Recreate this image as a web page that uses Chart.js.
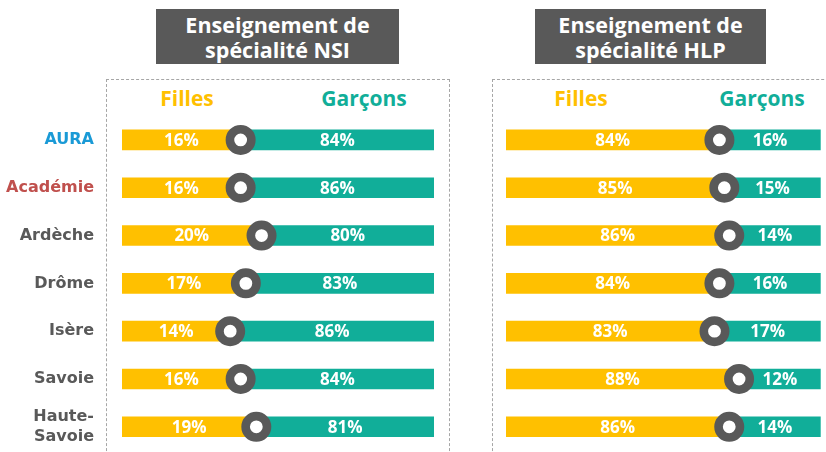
<!DOCTYPE html>
<html lang="fr">
<head>
<meta charset="utf-8">
<script src="https://cdn.jsdelivr.net/npm/chart.js@4.4.1/dist/chart.umd.min.js"></script>
<style>
  html { margin: 0; padding: 0; overflow: hidden; background: #fff; }
  body { margin: 0; padding: 0; width: 840px; height: 470px; position: relative; font-family: "Open Sans", sans-serif; }
  .title {
    position: absolute; top: 9px; height: 55px; background: #595959; color: #fff;
    font-weight: 700; font-size: 21.5px; line-height: 25px; text-align: center;
    display: flex; align-items: center; justify-content: center;
  }
  .box { position: absolute; top: 79px; height: 400px; border: 1px dashed #a6a6a6; }
  .head { position: absolute; top: 84px; font-weight: 700; font-size: 21px; transform: translateX(-50%); }
  .filles { color: #ffc000; }
  .garcons { color: #11ae99; }
  .wrap { position: absolute; top: 0; height: 470px; }
</style>
</head>
<body>
<div class="title" style="left:156px;width:243px">Enseignement de<br>spécialité NSI</div>
<div class="title" style="left:535px;width:231px">Enseignement de<br>spécialité HLP</div>
<div class="box" style="left:106px;width:342px"></div>
<div class="box" style="left:492px;width:400px"></div>
<div class="head filles" style="left:187px">Filles</div>
<div class="head garcons" style="left:364px">Garçons</div>
<div class="head filles" style="left:581px">Filles</div>
<div class="head garcons" style="left:762px">Garçons</div>
<div class="wrap" style="left:0px;width:460px"><canvas id="nsi"></canvas></div>
<div class="wrap" style="left:460px;width:380px"><canvas id="hlp"></canvas></div>
<script>
// data
const territoires = ["AURA", "Académie", "Ardèche", "Drôme", "Isère", "Savoie", ["Haute-", "Savoie"]];
const labelColors = ["#1a9ad6", "#c0504d", "#595959", "#595959", "#595959", "#595959", "#595959"];

const fillesNSI = [16, 16, 20, 17, 14, 16, 19];
const fillesNSILabels = ["16%", "16%", "20%", "17%", "14%", "16%", "19%"];
const garconsNSILabels = ["84%", "86%", "80%", "83%", "86%", "84%", "81%"];

const fillesHLP = [84, 85, 86, 84, 83, 88, 86];
const fillesHLPLabels = ["84%", "85%", "86%", "84%", "83%", "88%", "86%"];
const garconsHLPLabels = ["16%", "15%", "14%", "16%", "17%", "12%", "14%"];

// the original is not drawn to scale: these ranges put the circles where they are
const rangeNSI = [-6.7, 53];
const rangeHLP = [40.6, 104.6];

const YELLOW = "#ffc000",
  TEAL = "#11ae99",
  DARK = "#595959";

const valueLabels = {
  id: "valueLabels",
  afterDatasetsDraw(chart, args, opts) {
    const ctx = chart.ctx;
    ctx.save();
    ctx.font = "bold 17px 'Open Sans', sans-serif";
    ctx.fillStyle = "#fff";
    ctx.textAlign = "center";
    ctx.textBaseline = "middle";
    [1, 2].forEach((di, k) => {
      const texts = opts.texts[k];
      chart.getDatasetMeta(di).data.forEach((bar, i) => {
        ctx.fillText(texts[i], (bar.x + bar.base) / 2, bar.y + 1);
      });
    });
    ctx.restore();
  },
};

const makeChart = (id, width, filles, range, texts, axisWidth, padding) => {
  const canvas = document.getElementById(id);
  canvas.width = width;
  canvas.height = 470;
  canvas.style.width = width + "px";
  canvas.style.height = "470px";
  return new Chart(canvas, {
    type: "bar",
    data: {
      labels: territoires,
      datasets: [
        {
          type: "line",
          indexAxis: "y",
          data: filles,
          showLine: false,
          pointRadius: 10.7,
          pointBorderWidth: 8.6,
          pointBorderColor: DARK,
          pointBackgroundColor: "#fff",
          order: 0,
          clip: false,
        },
        {
          data: filles.map((f) => [range[0], f]),
          backgroundColor: YELLOW,
          barThickness: 20,
          grouped: false,
          order: 1,
        },
        {
          data: filles.map((f) => [f, range[1]]),
          backgroundColor: TEAL,
          barThickness: 20,
          grouped: false,
          order: 1,
        },
      ],
    },
    options: {
      indexAxis: "y",
      responsive: false,
      animation: false,
      layout: { padding: padding },
      plugins: {
        legend: { display: false },
        tooltip: { enabled: false },
        valueLabels: { texts: texts },
      },
      scales: {
        x: {
          display: false,
          min: range[0],
          max: range[1],
          afterFit: (scale) => {
            scale.paddingLeft = 0;
            scale.paddingRight = 0;
          },
        },
        y: {
          display: axisWidth > 0,
          grid: { display: false },
          border: { display: false },
          ticks: {
            padding: 20,
            color: (c) => labelColors[c.index],
            font: { family: "DejaVu Sans", weight: "bold", size: 16 },
          },
          afterFit: (scale) => {
            scale.width = axisWidth;
            scale.paddingTop = 0;
            scale.paddingBottom = 0;
          },
        },
      },
    },
    plugins: [valueLabels],
  });
};

makeChart("nsi", 460, fillesNSI, rangeNSI, [fillesNSILabels, garconsNSILabels], 122, {
  top: 116, bottom: 16, left: 0, right: 26,
});
makeChart("hlp", 380, fillesHLP, rangeHLP, [fillesHLPLabels, garconsHLPLabels], 0, {
  top: 116, bottom: 16, left: 46, right: 19.3,
});
</script>
</body>
</html>
